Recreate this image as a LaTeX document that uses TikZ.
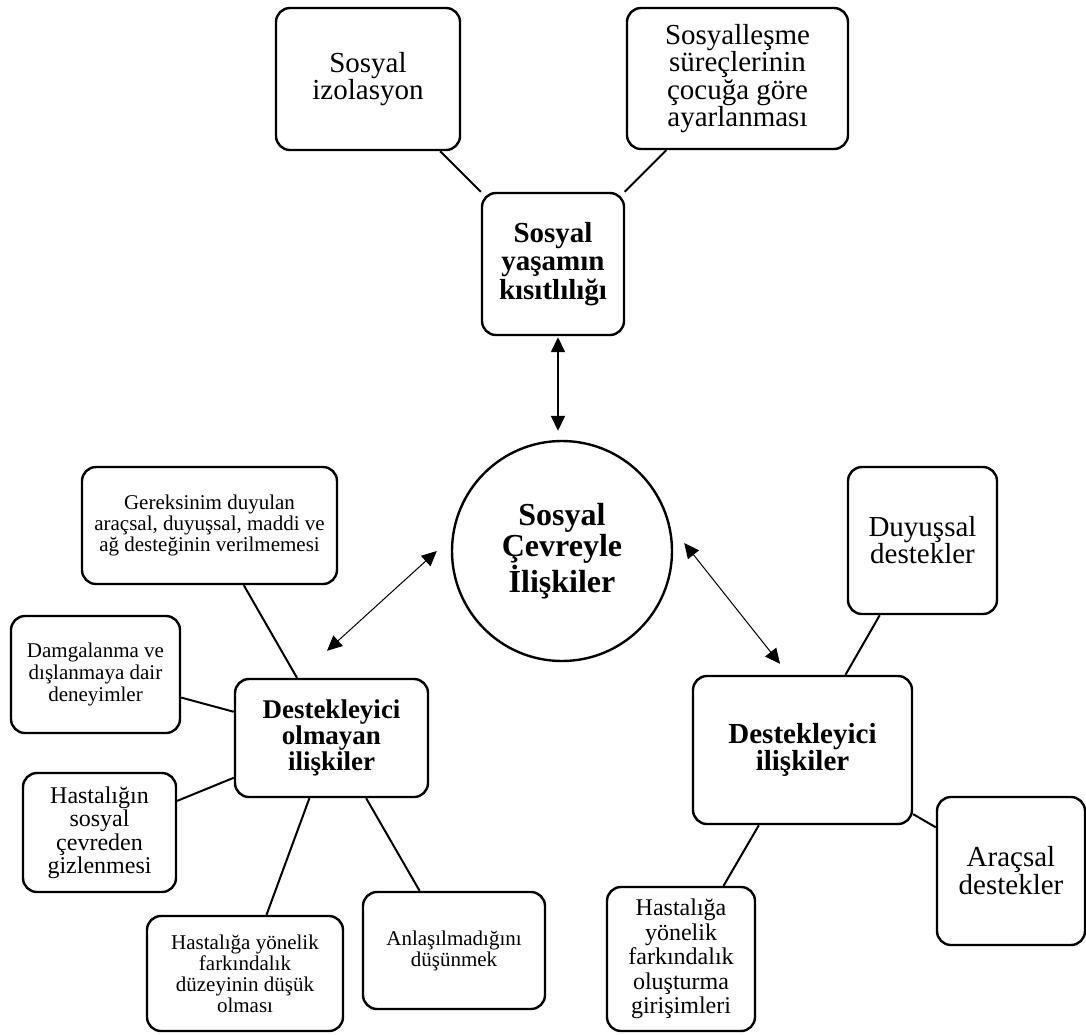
\documentclass[tikz,border=0pt]{standalone}
\usepackage{fontspec}
\setmainfont{Liberation Serif}
\usetikzlibrary{arrows.meta}

\begin{document}
\begin{tikzpicture}[x=1pt,y=-1pt,
  box/.style={draw, line width=2.4pt, rounded corners=14pt, inner sep=0pt, align=center},
  link/.style={line width=2pt},
  biarrow/.style={{Triangle[length=15pt,width=14pt]}-{Triangle[length=15pt,width=14pt]}, line width=1pt},
  fbig/.style={font=\fontsize{29}{27}\selectfont},
  fsmall/.style={font=\fontsize{21}{21}\selectfont},
  fmid/.style={font=\fontsize{24}{23.5}\selectfont}
]
\useasboundingbox (0,0) rectangle (1086,1034);

% centre
\node[draw, circle, line width=2.4pt, minimum size=220pt, inner sep=0pt, align=center,
      font=\bfseries\fontsize{32}{31.5}\selectfont] (circ) at (562,551)
  {Sosyal\\Çevreyle\\İlişkiler};

% upper branch
\node[box, bfbold/.style={}, minimum width=142pt, minimum height=142pt,
      font=\bfseries\fontsize{29}{28.5}\selectfont] (kisit) at (553,264)
  {Sosyal\\yaşamın\\kısıtlılığı};
\node[box, fbig, minimum width=184pt, minimum height=142pt] (izol) at (368,79)
  {Sosyal\\izolasyon};
\node[box, fbig, minimum width=221pt, minimum height=141pt, font=\fontsize{29}{27.5}\selectfont] (sosyal) at (737.5,78.5)
  {Sosyalleşme\\süreçlerinin\\çocuğa göre\\ayarlanması};

% left branch
\node[box, minimum width=193pt, minimum height=118pt,
      font=\bfseries\fontsize{27}{26}\selectfont] (olmayan) at (331.5,738)
  {Destekleyici\\olmayan\\ilişkiler};
\node[box, fsmall, minimum width=255pt, minimum height=117pt] (gerek) at (209.5,525.5)
  {Gereksinim duyulan\\araçsal, duyuşsal, maddi ve\\ağ desteğinin verilmemesi};
\node[box, fsmall, minimum width=169pt, minimum height=117pt, font=\fontsize{21}{22}\selectfont] (damga) at (95.5,674.5)
  {Damgalanma ve\\dışlanmaya dair\\deneyimler};
\node[box, fmid, minimum width=153pt, minimum height=119pt] (gizle) at (99.5,832.5)
  {Hastalığın\\sosyal\\çevreden\\gizlenmesi};
\node[box, fsmall, minimum width=196pt, minimum height=115pt] (duzey) at (245,973.5)
  {Hastalığa yönelik\\farkındalık\\düzeyinin düşük\\olması};
\node[box, fsmall, minimum width=182pt, minimum height=117pt] (anlas) at (454,950.5)
  {Anlaşılmadığını\\düşünmek};

% right branch
\node[box, minimum width=219pt, minimum height=148pt,
      font=\bfseries\fontsize{29}{26}\selectfont] (destek) at (802.5,750)
  {Destekleyici\\ilişkiler};
\node[box, fbig, minimum width=149pt, minimum height=147pt] (duyu) at (922.5,540.5)
  {Duyuşsal\\destekler};
\node[box, fbig, minimum width=148pt, minimum height=148pt, font=\fontsize{29}{28}\selectfont] (arac) at (1011,871)
  {Araçsal\\destekler};
\node[box, fmid, minimum width=148pt, minimum height=144pt, font=\fontsize{24}{24.5}\selectfont] (olustur) at (681,959)
  {Hastalığa\\yönelik\\farkındalık\\oluşturma\\girişimleri};

% plain links
\draw[link] (izol) -- (kisit);
\draw[link] (sosyal) -- (kisit);
\draw[link] (gerek) -- (olmayan);
\draw[link] (damga) -- (olmayan);
\draw[link] (gizle) -- (olmayan);
\draw[link] (duzey) -- (olmayan);
\draw[link] (anlas) -- (olmayan);
\draw[link] (duyu) -- (destek);
\draw[link] (arac) -- (destek);
\draw[link] (olustur) -- (destek);

% two-way arrows to the centre
\draw[biarrow, line width=1.6pt, shorten <=1pt, shorten >=9pt]
  ([xshift=5pt]kisit.south) -- ([xshift=5pt]kisit.south |- circ.north);
\draw[biarrow] ([xshift=-14pt]circ.west) -- ([xshift=-4.5pt,yshift=27pt]olmayan.north);
\draw[biarrow] ([xshift=11pt,yshift=8pt]circ.east) -- ([xshift=-22.5pt,yshift=11pt]destek.north);
\end{tikzpicture}
\end{document}
